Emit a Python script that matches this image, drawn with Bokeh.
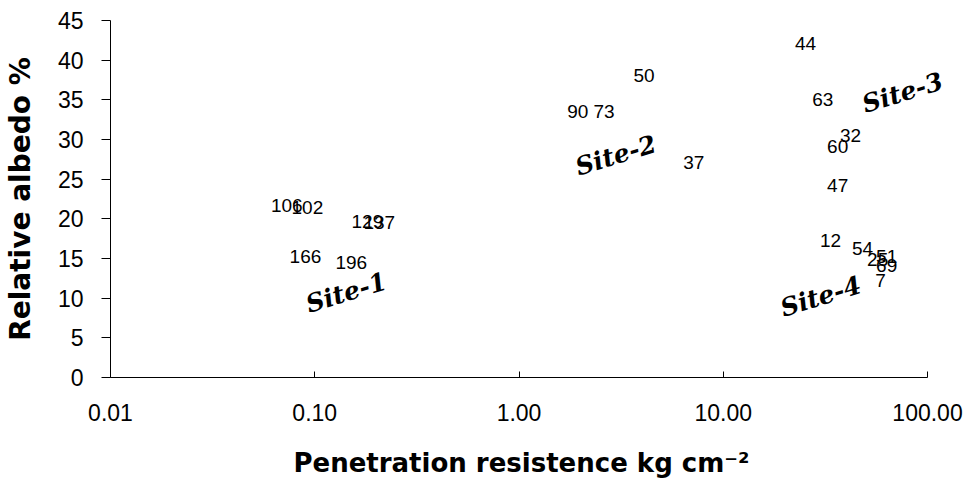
from bokeh.plotting import figure
from bokeh.models import FixedTicker, PrintfTickFormatter, ColumnDataSource, Range1d
from bokeh.core.properties import value
from bokeh.embed import file_html
from bokeh.resources import INLINE

# ---- data (penetration resistance kg cm^-2, relative albedo %) ----
site1_ids = ["106", "102", "129", "137", "166", "196"]
site1_x = [0.073, 0.092, 0.181, 0.207, 0.090, 0.151]
site1_y = [21.7, 21.4, 19.7, 19.5, 15.3, 14.5]

site2_ids = ["90", "73", "50", "37"]
site2_x = [1.94, 2.61, 4.09, 7.17]
site2_y = [33.5, 33.5, 38.1, 27.1]

site3_ids = ["44", "63", "32", "60", "47"]
site3_x = [25.3, 30.7, 42.0, 36.3, 36.3]
site3_y = [42.1, 35.0, 30.5, 29.1, 24.2]

site4_ids = ["12", "54", "25", "51", "69", "7"]
site4_x = [33.5, 48.1, 57.0, 63.1, 63.1, 58.9]
site4_y = [17.3, 16.3, 14.9, 15.3, 14.1, 12.2]

site_names = ["Site-1", "Site-2", "Site-3", "Site-4"]
site_name_x = [0.1426, 2.98, 75.5, 30.0]
site_name_y = [10.7, 28.0, 35.9, 10.2]

x_ticks = [0.01, 0.1, 1, 10, 100]
y_ticks = [0, 5, 10, 15, 20, 25, 30, 35, 40, 45]

# trailing no-break spaces only nudge the centred title left
x_title = "Penetration resistence kg cm\u207b\u00b2" + "\u00a0\u00a0"
y_title = "Relative albedo %"

# ---- layout (pixels) ----
W, H = 977, 490
LEFT, RIGHT, TOP, BOTTOM = 109, 27, 20, 113
AXIS_PX = 818                      # length of the drawn x axis (0.01 .. 100)
frame_w = W - LEFT - RIGHT
decades = 4 * frame_w / AXIS_PX    # frame is a bit wider than the axis so labels are not cut
x_hi = 0.01 * 10 ** decades

p = figure(width=W, height=H, x_axis_type="log",
           x_range=Range1d(0.01, x_hi), y_range=Range1d(0, 45),
           output_backend="svg", toolbar_location=None,
           min_border_left=LEFT, min_border_right=RIGHT,
           min_border_top=TOP, min_border_bottom=BOTTOM)
p.outline_line_color = None
p.xgrid.visible = False
p.ygrid.visible = False
p.background_fill_color = "white"

# x axis
xa = p.xaxis[0]
xa.bounds = (x_ticks[0], x_ticks[-1])
xa.ticker = FixedTicker(ticks=x_ticks, minor_ticks=[])
xa.formatter = PrintfTickFormatter(format="%.2f")
xa.major_tick_in = 6
xa.major_tick_out = 0
xa.minor_tick_in = 0
xa.minor_tick_out = 0
xa.axis_line_color = "black"
xa.major_tick_line_color = "black"
xa.major_label_text_font = "Liberation Sans"
xa.major_label_text_font_size = "23px"
xa.major_label_text_color = "black"
xa.major_label_standoff = 26
xa.axis_label = x_title
xa.axis_label_text_font = "DejaVu Sans"
xa.axis_label_text_font_style = "bold"
xa.axis_label_text_font_size = "26px"
xa.axis_label_text_color = "black"
xa.axis_label_standoff = 24

# y axis
ya = p.yaxis[0]
ya.ticker = FixedTicker(ticks=y_ticks, minor_ticks=[])
ya.major_tick_in = 0
ya.major_tick_out = 9
ya.minor_tick_in = 0
ya.minor_tick_out = 0
ya.axis_line_color = "black"
ya.major_tick_line_color = "black"
ya.major_label_text_font = "Liberation Sans"
ya.major_label_text_font_size = "23px"
ya.major_label_text_color = "black"
ya.major_label_standoff = 18
ya.axis_label = y_title
ya.axis_label_text_font = "DejaVu Sans"
ya.axis_label_text_font_style = "bold"
ya.axis_label_text_font_size = "28px"
ya.axis_label_text_color = "black"
ya.axis_label_standoff = 18

# sample number labels
for ids, xs, ys in [(site1_ids, site1_x, site1_y), (site2_ids, site2_x, site2_y),
                    (site3_ids, site3_x, site3_y), (site4_ids, site4_x, site4_y)]:
    src = ColumnDataSource(dict(x=xs, y=ys, t=ids))
    p.text(x="x", y="y", text="t", source=src, text_font=value("Liberation Sans"),
           text_font_size="19px", text_color="black", text_align="center",
           text_baseline="middle")

# site names
ssrc = ColumnDataSource(dict(x=site_name_x, y=site_name_y, t=site_names))
p.text(x="x", y="y", text="t", source=ssrc, text_font=value("DejaVu Serif"),
       text_font_style="bold italic", text_font_size="25px", text_color="black",
       text_align="center", text_baseline="middle", angle=0.3)

open("out.html", "w").write(file_html(p, INLINE))
